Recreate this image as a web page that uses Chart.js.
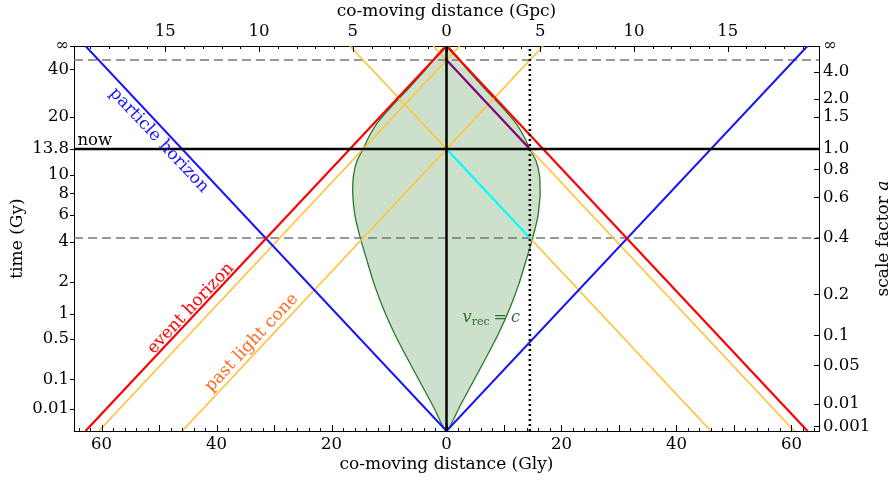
<!DOCTYPE html>
<html><head><meta charset="utf-8">
<script src="https://cdn.jsdelivr.net/npm/chart.js@4.4.0/dist/chart.umd.min.js"></script>
<style>html,body{margin:0;padding:0;background:#fff}#wrap{width:894px;height:480px;position:relative}</style>
</head><body><div id="wrap"><canvas id="c"></canvas></div>
<script>
// ---------- data (Gly, conformal time in Gly) ----------
const GLY_PER_GPC = 3.2616;
const X_HALF = 64.8;
const ETA_INF = 62.8;

const timeTickEta    = [62.8, 59.0, 51.2, 46.0, 41.8, 38.75, 35.3, 30.9, 24.3, 19.15, 15.05, 8.43, 3.64];
const timeTickLabels = ['∞','40','20','13.8','10','8','6','4','2','1','0.5','0.1','0.01'];
const scaleTickEta    = [62.8, 58.6, 54.2, 51.3, 46.0, 42.7, 38.1, 31.5, 22.3, 15.6, 10.7, 4.4, 0.77];
const scaleTickLabels = ['∞','4.0','2.0','1.5','1.0','0.8','0.6','0.4','0.2','0.1','0.05','0.01','0.001'];
const glyTickValues = [-60,-40,-20,0,20,40,60];
const glyTickLabels = ['60','40','20','0','20','40','60'];
const gpcTickValues = [-15,-10,-5,0,5,10,15];
const gpcTickLabels = ['15','10','5','0','5','10','15'];

const particleHorizon = [[-62.8,62.8],[0,0],[62.8,62.8]];
const eventHorizon    = [[-62.8,0],[0,62.8],[62.8,0]];
const lightConeNowA   = [[-46,0],[16.8,62.8]];
const lightConeNowB   = [[46,0],[-16.8,62.8]];
const lightConeLateA  = [[-60.5,0],[2.3,62.8]];
const lightConeLateB  = [[60.5,0],[-2.3,62.8]];
const cyanSegment     = [[0,46],[14.5,31.5]];
const purpleSegment   = [[0,60.5],[14.5,46]];
const worldLine       = [[0,0],[0,62.8]];
const nowLine         = [[-64.8,46],[64.8,46]];
const dashLate        = [[-64.8,60.5],[64.8,60.5]];
const dashEarly       = [[-64.8,31.5],[64.8,31.5]];
const hubbleDotted    = [[14.5,0],[14.5,62.8]];
// right half of the Hubble sphere boundary (v_rec = c), bottom to top
const hubbleRight = [[0,0],[2.3,4],[4.6,8],[6.9,12],[9.1,16],[11.0,20],[12.6,24],[13.9,28],
  [15.0,31.5],[15.9,35],[16.3,38.5],[16.2,41.5],[15.6,44],[14.5,46],[13.5,48],[12.0,50.3],
  [9.5,53.0],[6.5,56.0],[3.6,59.0],[0,62.8]];

// ---------- build ----------
const P = a => a.map(([x,y]) => ({x, y}));
// closed ring: right side upward, mirrored left side downward; start (and end) at the widest point
const ring = hubbleRight.concat(hubbleRight.slice(1, -1).reverse().map(([x,y]) => [-x,y]));
const hubbleShape = P(ring.slice(10).concat(ring.slice(0, 11)));

const FONT = "'DejaVu Serif', serif";
const line = (data, color, width, order, extra) => Object.assign({
  data: P(data), showLine: true, borderColor: color, borderWidth: width, pointRadius: 0,
  fill: false, tension: 0, order}, extra || {});

const datasets = [
  {data: hubbleShape, showLine: true, borderColor: 'rgb(40,120,40)', borderWidth: 1.3,
   backgroundColor: 'rgba(0,100,0,0.2)', fill: 'shape', tension: 0.2, pointRadius: 0, order: 100},
  line(dashLate, '#777', 1.5, 90, {borderDash: [9,5]}),
  line(dashEarly, '#777', 1.5, 90, {borderDash: [9,5]}),
  line(lightConeNowA, '#ffc43d', 1.7, 80),
  line(lightConeNowB, '#ffc43d', 1.7, 80),
  line(lightConeLateA, '#ffc43d', 1.7, 80),
  line(lightConeLateB, '#ffc43d', 1.7, 80),
  line(particleHorizon, '#1414ff', 2, 70),
  line(eventHorizon, '#ff0000', 2.2, 60),
  line(cyanSegment, '#00ffff', 2.2, 50),
  line(purpleSegment, '#800080', 2.2, 50),
  line(worldLine, '#000', 2.5, 40),
  line(nowLine, '#000', 2.5, 40),
  line(hubbleDotted, '#000', 2.5, 30, {borderDash: [2,3]})
];

const tickFont = {family: FONT, size: 16.5};
const setTicks = vals => s => { s.ticks = vals.map(v => ({value: v})); };
const lab = (vals, labs) => v => { const i = vals.indexOf(v); return i < 0 ? '' : labs[i]; };
const gridOff = {display: true, drawOnChartArea: false, drawTicks: false};
const border = {display: true, color: '#000', width: 1};

const decor = {
  id: 'decor',
  afterDraw(chart) {
    const {ctx, chartArea: a, scales: s} = chart;
    ctx.save();
    ctx.strokeStyle = '#000'; ctx.lineWidth = 1;
    const seg = (x1,y1,x2,y2) => { ctx.beginPath(); ctx.moveTo(x1,y1); ctx.lineTo(x2,y2); ctx.stroke(); };
    for (let v = -64; v <= 64; v += 2) {
      const px = Math.round(s.x.getPixelForValue(v)) + 0.5;
      seg(px, a.bottom, px, a.bottom - (v % 10 === 0 ? 6 : 3));
    }
    for (let v = -19; v <= 19; v++) {
      const px = Math.round(s.x2.getPixelForValue(v)) + 0.5;
      seg(px, a.top, px, a.top + (v % 5 === 0 ? 6 : 3));
    }
    timeTickEta.forEach(e => { const py = Math.round(s.y.getPixelForValue(e)) + 0.5; seg(a.left - 4, py, a.left, py); });
    scaleTickEta.forEach(e => { const py = Math.round(s.y2.getPixelForValue(e)) + 0.5; seg(a.right - 5, py, a.right, py); });

    // axis titles
    ctx.fillStyle = '#000'; ctx.textBaseline = 'middle'; ctx.textAlign = 'center';
    const TF = `17px ${FONT}`;
    ctx.font = TF;
    const cx = (a.left + a.right) / 2;
    ctx.fillText('co-moving distance (Gpc)', cx, a.top - 34);
    ctx.fillText('co-moving distance (Gly)', cx, a.bottom + 34);
    ctx.save(); ctx.translate(17.5, (a.top + a.bottom) / 2); ctx.rotate(-Math.PI / 2);
    ctx.fillText('time (Gy)', 0, 0); ctx.restore();
    ctx.save(); ctx.translate(884, (a.top + a.bottom) / 2); ctx.rotate(-Math.PI / 2);
    const t1 = 'scale factor ', t2 = 'a';
    ctx.font = TF; const w1 = ctx.measureText(t1).width;
    ctx.font = `italic ${TF}`; const w2 = ctx.measureText(t2).width;
    ctx.textAlign = 'left';
    ctx.font = TF; ctx.fillText(t1, -(w1 + w2) / 2, 0);
    ctx.font = `italic ${TF}`; ctx.fillText(t2, -(w1 + w2) / 2 + w1, 0);
    ctx.restore();

    // annotations along lines
    const px = (x, y) => [s.x.getPixelForValue(x), s.y.getPixelForValue(y)];
    const ang = Math.atan2(s.y.getPixelForValue(1) - s.y.getPixelForValue(0), s.x.getPixelForValue(1) - s.x.getPixelForValue(0));
    const rot = (text, x, y, angle, color) => {
      const [X, Y] = px(x, y);
      ctx.save(); ctx.translate(X, Y); ctx.rotate(angle);
      ctx.font = `17px ${FONT}`; ctx.fillStyle = color; ctx.textAlign = 'center'; ctx.textBaseline = 'middle';
      ctx.fillText(text, 0, 0); ctx.restore();
    };
    rot('particle horizon', -50.0, 47.4, -ang, '#1414ff');
    rot('event horizon', -44.5, 20.0, ang, '#ff0000');
    rot('past light cone', -33.9, 14.4, ang, '#ff6a22');

    // "now"
    { const [X, Y] = px(-64.2, 46.6);
      ctx.font = `16.5px ${FONT}`; ctx.fillStyle = '#000'; ctx.textAlign = 'left'; ctx.textBaseline = 'alphabetic';
      ctx.fillText('now', X, Y); }
    // v_rec = c
    { let [X, Y] = px(2.8, 17.8);
      ctx.fillStyle = '#2f6e2f'; ctx.textAlign = 'left'; ctx.textBaseline = 'alphabetic';
      ctx.font = `italic 16px ${FONT}`; ctx.fillText('v', X, Y); X += ctx.measureText('v').width;
      ctx.font = `11px ${FONT}`; ctx.fillText('rec', X, Y + 3); X += ctx.measureText('rec').width + 4;
      ctx.font = `16px ${FONT}`; ctx.fillText('=', X, Y); X += ctx.measureText('=').width + 4;
      ctx.font = `italic 16px ${FONT}`; ctx.fillText('c', X, Y); }
    ctx.restore();
  }
};

new Chart(document.getElementById('c'), {
  type: 'scatter',
  data: {datasets},
  options: {
    responsive: true, maintainAspectRatio: false, animation: false, events: [],
    layout: {padding: 0},
    plugins: {legend: {display: false}, tooltip: {enabled: false}},
    scales: {
      x: {type: 'linear', position: 'bottom', min: -X_HALF, max: X_HALF,
          afterBuildTicks: setTicks(glyTickValues), afterFit: s => { s.height = 49; },
          ticks: {autoSkip: false, maxRotation: 0, padding: 4, color: '#000', font: tickFont, callback: lab(glyTickValues, glyTickLabels)},
          grid: gridOff, border},
      x2: {type: 'linear', position: 'top', min: -X_HALF / GLY_PER_GPC, max: X_HALF / GLY_PER_GPC,
          afterBuildTicks: setTicks(gpcTickValues), afterFit: s => { s.height = 46; },
          ticks: {autoSkip: false, maxRotation: 0, padding: 4, color: '#000', font: tickFont, callback: lab(gpcTickValues, gpcTickLabels)},
          grid: gridOff, border},
      y: {type: 'linear', position: 'left', min: 0, max: ETA_INF,
          afterBuildTicks: setTicks(timeTickEta), afterFit: s => { s.width = 74; },
          ticks: {autoSkip: false, padding: 5, color: '#000', font: tickFont, callback: lab(timeTickEta, timeTickLabels)},
          grid: gridOff, border},
      y2: {type: 'linear', position: 'right', min: 0, max: ETA_INF,
          afterBuildTicks: setTicks(scaleTickEta), afterFit: s => { s.width = 75; },
          ticks: {autoSkip: false, padding: 4, color: '#000', font: tickFont, callback: lab(scaleTickEta, scaleTickLabels)},
          grid: gridOff, border}
    }
  },
  plugins: [decor]
});
</script></body></html>
